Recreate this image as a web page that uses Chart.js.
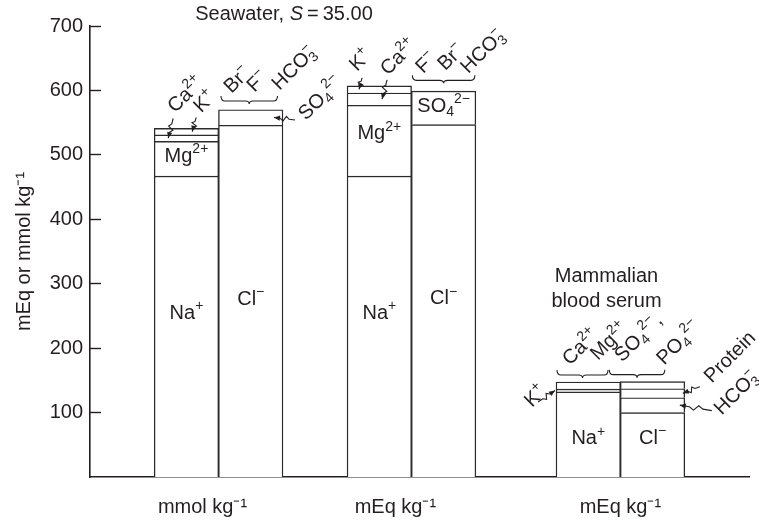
<!DOCTYPE html>
<html>
<head>
<meta charset="utf-8">
<script src="https://cdn.jsdelivr.net/npm/chart.js@4.4.1/dist/chart.umd.min.js"></script>
<style>
  html, body { margin: 0; padding: 0; background: #fff; }
  #wrap { width: 759px; height: 525px; }
</style>
</head>
<body>
<div id="wrap"><canvas id="ionChart" width="759" height="525"></canvas></div>
<script>
// Major ions of seawater (S = 35) next to mammalian blood serum

const groupLabels = ['mmol kg⁻¹', 'mEq kg⁻¹', 'mEq kg⁻¹'];
const yTicks = [100, 200, 300, 400, 500, 600, 700];

// seawater cations, bottom to top
const seaCations = ['Na⁺', 'Mg²⁺', 'Ca²⁺', 'K⁺'];
const seaCationsMmol = [467, 54, 10, 10];
const seaCationsMeq = [467, 110, 19, 11];

// seawater anions, bottom to top
const seaAnions = ['Cl⁻', 'SO₄²⁻', 'Br⁻', 'F⁻', 'HCO₃⁻'];
const seaAnionsMmol = [546, 24, 0.8, 0.1, 1.8];
const seaAnionsMeq = [547, 52, 0.8, 0.1, 1.8];

// blood serum (mEq/kg), bottom to top
const serumCations = ['Na⁺', 'K⁺', 'Ca²⁺ + Mg²⁺'];
const serumCationsMeq = [132, 4.5, 11];
const serumAnions = ['Cl⁻', 'HCO₃⁻', 'Protein', 'SO₄²⁻ + PO₄²⁻'];
const serumAnionsMeq = [100, 23, 14, 11];

// layout: the x axis is a row of narrow slots, columns sit on some of them
const SLOTS = 42;
const colSlots = [6, 10, 18, 22, 31, 35];
const labelSlots = [7, 19, 33];

const ink = '#231f20';
const edge = '#2b2b2b';
const FACE = '"Liberation Sans", Arial, Helvetica, sans-serif';
const SIZE = 20;

const columns = [
  { names: seaCations, values: seaCationsMmol },
  { names: seaAnions, values: seaAnionsMmol },
  { names: seaCations, values: seaCationsMeq },
  { names: seaAnions, values: seaAnionsMeq },
  { names: serumCations, values: serumCationsMeq },
  { names: serumAnions, values: serumAnionsMeq }
];

const slotLabels = Array.from({ length: SLOTS }, (_, i) => {
  const g = labelSlots.indexOf(i);
  return g < 0 ? '' : groupLabels[g];
});

const datasets = [];
const segIndex = [];
columns.forEach((col, c) => {
  segIndex.push([]);
  col.values.forEach((v, j) => {
    const data = new Array(SLOTS).fill(null);
    data[colSlots[c]] = v;
    segIndex[c].push(datasets.length);
    datasets.push({
      label: col.names[j],
      data: data,
      stack: 'ions',
      backgroundColor: '#fff',
      borderColor: edge,
      borderWidth: v < 2 ? 0 : 1.4
    });
  });
});

// tiny rich-text: ^{sup} _{sub} !{sup stacked over previous sub} ~{italic}
function parts(str) {
  const out = [];
  const re = /([_^!~])\{([^}]*)\}|([^_^!~]+)/g;
  let m;
  while ((m = re.exec(str))) {
    if (m[3]) out.push({ t: m[3], k: '' });
    else out.push({ t: m[2], k: m[1] });
  }
  return out;
}

function fontFor(k, size) {
  if (k === '^' || k === '_' || k === '!') return Math.round(size * 0.7) + 'px ' + FACE;
  if (k === '~') return 'italic ' + size + 'px ' + FACE;
  return size + 'px ' + FACE;
}

function drawRich(ctx, str, x, y, opts) {
  const o = Object.assign({ align: 'left', angle: 0, size: SIZE }, opts || {});
  const ps = parts(str);
  let w = 0, prev = null;
  ps.forEach(p => {
    ctx.font = fontFor(p.k, o.size);
    p.w = ctx.measureText(p.t).width;
    if (p.k === '!' && prev) { p.back = prev.w; w += Math.max(0, p.w - prev.w); }
    else w += p.w;
    prev = p;
  });
  ctx.save();
  ctx.translate(x, y);
  ctx.rotate(o.angle);
  ctx.textAlign = 'left';
  ctx.textBaseline = 'alphabetic';
  let cx = o.align === 'center' ? -w / 2 : 0;
  ps.forEach(p => {
    ctx.font = fontFor(p.k, o.size);
    let dy = 0;
    if (p.k === '^' || p.k === '!') dy = -o.size * 0.42;
    if (p.k === '_') dy = o.size * 0.22;
    const px = p.back ? cx - p.back : cx;
    ctx.fillText(p.t, px, dy);
    cx = p.back ? Math.max(cx, px + p.w) : cx + p.w;
  });
  ctx.restore();
}

function squiggle(ctx, x0, y0, x1, y1) {
  const dx = x1 - x0, dy = y1 - y0, len = Math.hypot(dx, dy);
  const ux = dx / len, uy = dy / len, nx = -uy, ny = ux;
  const a = 2.6;
  const pts = [[0, 0], [0.28, 0], [0.42, a], [0.56, -a], [0.7, 0], [1, 0]];
  ctx.beginPath();
  pts.forEach(([t, off], i) => {
    const px = x0 + dx * t + nx * off, py = y0 + dy * t + ny * off;
    if (i) ctx.lineTo(px, py); else ctx.moveTo(px, py);
  });
  ctx.stroke();
  const hl = 6, hw = 2.6;
  ctx.beginPath();
  ctx.moveTo(x1, y1);
  ctx.lineTo(x1 - ux * hl + nx * hw, y1 - uy * hl + ny * hw);
  ctx.lineTo(x1 - ux * hl - nx * hw, y1 - uy * hl - ny * hw);
  ctx.closePath();
  ctx.fill();
}

function brace(ctx, x1, x2, y) {
  const up = 5, down = 3, r = 4;
  const xm = (x1 + x2) / 2;
  ctx.beginPath();
  ctx.moveTo(x1, y - up);
  ctx.quadraticCurveTo(x1, y, x1 + r, y);
  ctx.lineTo(xm - r, y);
  ctx.quadraticCurveTo(xm, y, xm, y + down);
  ctx.quadraticCurveTo(xm, y, xm + r, y);
  ctx.lineTo(x2 - r, y);
  ctx.quadraticCurveTo(x2, y, x2, y - up);
  ctx.stroke();
}

const notesPlugin = {
  id: 'ionNotes',
  afterDatasetsDraw(chart) {
    const ctx = chart.ctx;
    const area = chart.chartArea;
    const seg = (c, j) => {
      const el = chart.getDatasetMeta(segIndex[c][j]).data[colSlots[c]];
      return { top: el.y, bottom: el.base, mid: (el.y + el.base) / 2,
               left: el.x - el.width / 2, right: el.x + el.width / 2, x: el.x };
    };
    const col = c => {
      const lo = seg(c, 0), hi = seg(c, segIndex[c].length - 1);
      return { left: lo.left, right: lo.right, x: lo.x, top: hi.top };
    };
    const inside = (c, j, text, f) => {
      const s = seg(c, j);
      const y = s.bottom - (s.bottom - s.top) * f;
      drawRich(ctx, text, s.x, y + SIZE * 0.36, { align: 'center' });
    };
    // slanted labels: x, y is roughly the lowest corner of the first letter
    const tilt = (text, x, y) => drawRich(ctx, text, x + 6, y, { angle: -Math.PI / 4 });
    const sq = (x0, y0, x1, y1) => squiggle(ctx, x0, y0, x1, y1);
    const br = (x1, x2, y) => brace(ctx, x1, x2, y);

    ctx.save();
    ctx.fillStyle = ink;
    ctx.strokeStyle = ink;
    ctx.lineWidth = 1.1;

    // seawater heading
    let k = col(1);
    drawRich(ctx, 'Seawater, ~{S}\u2009=\u200935.00', k.right + 1, area.top - 6, { align: 'center' });

    // seawater, mmol
    inside(0, 0, 'Na^{+}', 0.55);
    inside(0, 1, 'Mg^{2+}', 0.62);
    inside(1, 0, 'Cl^{−}', 0.51);
    k = col(0);
    tilt('Ca^{2+}', k.left + 15, k.top - 15);
    sq(k.left + 19, k.top - 10, k.left + 14, seg(0, 2).mid);
    tilt('K^{+}', k.left + 41, k.top - 15);
    sq(k.left + 42, k.top - 11, k.left + 38, seg(0, 3).mid);
    k = col(1);
    br(k.left + 2.5, k.right - 5.5, k.top - 7);
    tilt('Br^{−}', k.left + 7, k.top - 14);
    tilt('F^{−}', k.left + 30, k.top - 15);
    tilt('HCO_{3}!{−}', k.left + 55, k.top - 17);
    tilt('SO_{4}^{2−}', k.right + 17, k.top + 13);
    sq(k.right + 12, k.top + 12, k.right - 9, seg(1, 1).mid);

    // seawater, mEq
    inside(2, 0, 'Na^{+}', 0.55);
    inside(2, 1, 'Mg^{2+}', 0.62);
    inside(3, 0, 'Cl^{−}', 0.51);
    inside(3, 1, 'SO_{4}^{2−}', 0.6);
    k = col(2);
    tilt('K^{+}', k.left + 4, k.top - 14);
    sq(k.left + 15, k.top - 8, k.left + 12, seg(2, 3).mid);
    tilt('Ca^{2+}', k.left + 35, k.top - 10);
    sq(k.left + 40, k.top - 6, k.left + 35, seg(2, 2).mid);
    k = col(3);
    br(k.left + 1, k.right - 1, k.top - 9);
    tilt('F^{−}', k.left + 6, k.top - 15);
    tilt('Br^{−}', k.left + 28, k.top - 18);
    tilt('HCO_{3}!{−}', k.left + 51, k.top - 15);

    // blood serum
    inside(4, 0, 'Na^{+}', 0.47);
    inside(5, 0, 'Cl^{−}', 0.63);
    k = col(4);
    drawRich(ctx, 'Mammalian', k.right - 14, k.top - 100, { align: 'center' });
    drawRich(ctx, 'blood serum', k.right - 14, k.top - 75, { align: 'center' });
    tilt('K^{+}', k.left - 30, k.top + 26);
    sq(k.left - 18, k.top + 20, k.left - 1, seg(4, 1).mid);
    br(k.left + 1, k.right - 12.5, k.top - 7);
    tilt('Ca^{2+}', k.left + 8, k.top - 16);
    tilt('Mg^{2+}', k.left + 36, k.top - 21);
    k = col(5);
    br(k.left - 11, k.right - 20, k.top - 7);
    tilt('SO_{4}^{2−},', k.left - 4, k.top - 19);
    tilt('PO_{4}^{2−}', k.left + 38, k.top - 16);
    tilt('Protein', k.right + 21, k.top + 2);
    sq(k.right + 15, k.top + 5, k.right - 2, seg(5, 2).mid);
    tilt('HCO_{3}!{−}', k.right + 31, k.top + 34);
    sq(k.right + 27, k.top + 29, k.right - 5, seg(5, 1).mid);

    ctx.restore();
  }
};

const tickFont = { family: FACE, size: SIZE };

new Chart(document.getElementById('ionChart'), {
  type: 'bar',
  data: { labels: slotLabels, datasets: datasets },
  options: {
    responsive: false,
    animation: false,
    devicePixelRatio: 1,
    layout: { padding: { top: 26, right: 10, bottom: 7, left: 0 } },
    datasets: { bar: { barThickness: 64.5 } },
    plugins: {
      legend: { display: false },
      tooltip: { enabled: false },
      title: { display: false }
    },
    scales: {
      x: {
        type: 'category',
        stacked: true,
        offset: false,
        afterFit: s => { s.height = 41; s.paddingLeft = 0; s.paddingRight = 0; },
        grid: { display: false, drawTicks: false },
        border: { display: true, color: ink, width: 1.6 },
        ticks: { autoSkip: false, maxRotation: 0, minRotation: 0, padding: 18, color: ink, font: tickFont }
      },
      y: {
        stacked: true,
        min: 0,
        max: 700,
        afterBuildTicks: s => { s.ticks = yTicks.map(v => ({ value: v })); },
        afterFit: s => { s.width = 90; s.paddingTop = 0; s.paddingBottom = 0; },
        grid: { drawOnChartArea: false, drawTicks: true, tickLength: -11, tickWidth: 1.4, tickColor: ink },
        border: { display: true, color: ink, width: 1.6 },
        ticks: { padding: 18, color: ink, font: tickFont },
        title: { display: true, text: 'mEq or mmol kg⁻¹', color: ink, font: tickFont, padding: { top: 12, bottom: 0 } }
      }
    }
  },
  plugins: [notesPlugin]
});
</script>
</body>
</html>
